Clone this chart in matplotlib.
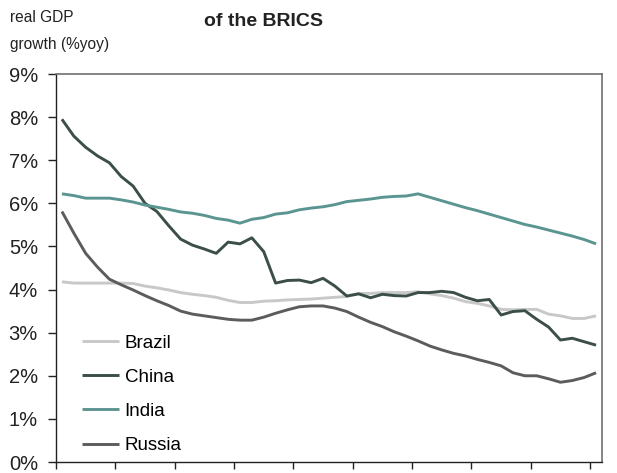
import matplotlib
matplotlib.use("Agg")
import matplotlib.pyplot as plt
import numpy as np

# quarterly real GDP growth, % yoy
brazil = [4.18, 4.15, 4.15, 4.15, 4.15, 4.15, 4.14, 4.08, 4.04, 3.99,
          3.93, 3.89, 3.86, 3.82, 3.75, 3.70, 3.70, 3.73, 3.74, 3.76,
          3.77, 3.78, 3.80, 3.82, 3.84, 3.91, 3.91, 3.93, 3.93, 3.93,
          3.95, 3.90, 3.86, 3.80, 3.72, 3.68, 3.62, 3.54, 3.53, 3.54,
          3.54, 3.43, 3.39, 3.33, 3.33, 3.39]
china = [7.95, 7.56, 7.30, 7.10, 6.94, 6.62, 6.40, 6.00, 5.81, 5.48,
         5.17, 5.03, 4.94, 4.84, 5.10, 5.06, 5.20, 4.88, 4.15, 4.21,
         4.22, 4.16, 4.26, 4.08, 3.85, 3.90, 3.81, 3.89, 3.86, 3.85,
         3.93, 3.93, 3.96, 3.93, 3.82, 3.74, 3.77, 3.41, 3.49, 3.51,
         3.31, 3.13, 2.83, 2.87, 2.79, 2.71]
india = [6.22, 6.18, 6.12, 6.12, 6.12, 6.08, 6.03, 5.96, 5.91, 5.86,
         5.80, 5.77, 5.72, 5.65, 5.61, 5.54, 5.63, 5.67, 5.75, 5.78,
         5.85, 5.89, 5.92, 5.97, 6.04, 6.07, 6.10, 6.14, 6.16, 6.17,
         6.22, 6.14, 6.06, 5.98, 5.90, 5.83, 5.75, 5.67, 5.59, 5.51,
         5.45, 5.38, 5.31, 5.24, 5.16, 5.06]
russia = [5.81, 5.31, 4.84, 4.52, 4.24, 4.11, 3.99, 3.86, 3.74, 3.63,
          3.50, 3.43, 3.39, 3.35, 3.31, 3.29, 3.29, 3.36, 3.45, 3.53,
          3.60, 3.62, 3.62, 3.57, 3.49, 3.36, 3.24, 3.14, 3.02, 2.92,
          2.81, 2.69, 2.60, 2.52, 2.46, 2.38, 2.31, 2.23, 2.07, 2.00,
          2.00, 1.93, 1.85, 1.89, 1.96, 2.07]

series = [("Brazil", brazil, "#c8c8c8"),
          ("China", china, "#3b4f47"),
          ("India", india, "#5b9591"),
          ("Russia", russia, "#5c5c5c")]

plt.rcParams['font.family'] = ['Liberation Sans', 'DejaVu Sans']

W, H = 617, 473
fig = plt.figure(figsize=(W / 100, H / 100), dpi=100)
ax = fig.add_axes([56 / W, 1 - 462 / H, (602 - 56) / W, (462 - 74) / H])

n = len(brazil)
x = np.arange(n) + 0.5
for name, vals, col in series:
    ax.plot(x, vals, color=col, lw=2.1, label=name, solid_capstyle='butt')

ax.set_xlim(0, n)
ax.set_ylim(0, 9)
ax.set_xticks(np.arange(0, n, 5))
ax.set_xticklabels([])
ax.set_yticks(range(0, 10))
ax.set_yticklabels([f"{v}%" for v in range(0, 10)])
ax.tick_params(axis='y', direction='out', length=6, width=1, pad=7,
               labelsize=14.5, colors='#222222')
ax.tick_params(axis='x', direction='out', length=5, width=1, colors='#222222')

for side in ['left', 'bottom']:
    ax.spines[side].set_color('#222222')
    ax.spines[side].set_linewidth(1.0)
for side in ['top', 'right']:
    ax.spines[side].set_color('#707070')
    ax.spines[side].set_linewidth(1.2)

ax.legend(loc='upper left', bbox_to_anchor=(81.5 / W, 1 - 334.5 / H),
          bbox_transform=fig.transFigure, frameon=False, fontsize=13.5,
          handlelength=2.0, handletextpad=0.3, labelspacing=0.91,
          borderpad=0, borderaxespad=0)

fig.text(10 / W, 1 - 17 / H, "real GDP", fontsize=11.2, color='#222222', va='center')
fig.text(10 / W, 1 - 45 / H, "growth (%yoy)", fontsize=11.2, color='#222222', va='center')
fig.text(263 / W, 1 - 21 / H, "of the BRICS", fontsize=14, fontweight='bold',
         color='#222222', ha='center', va='center')

fig.savefig("out.png", dpi=100)
